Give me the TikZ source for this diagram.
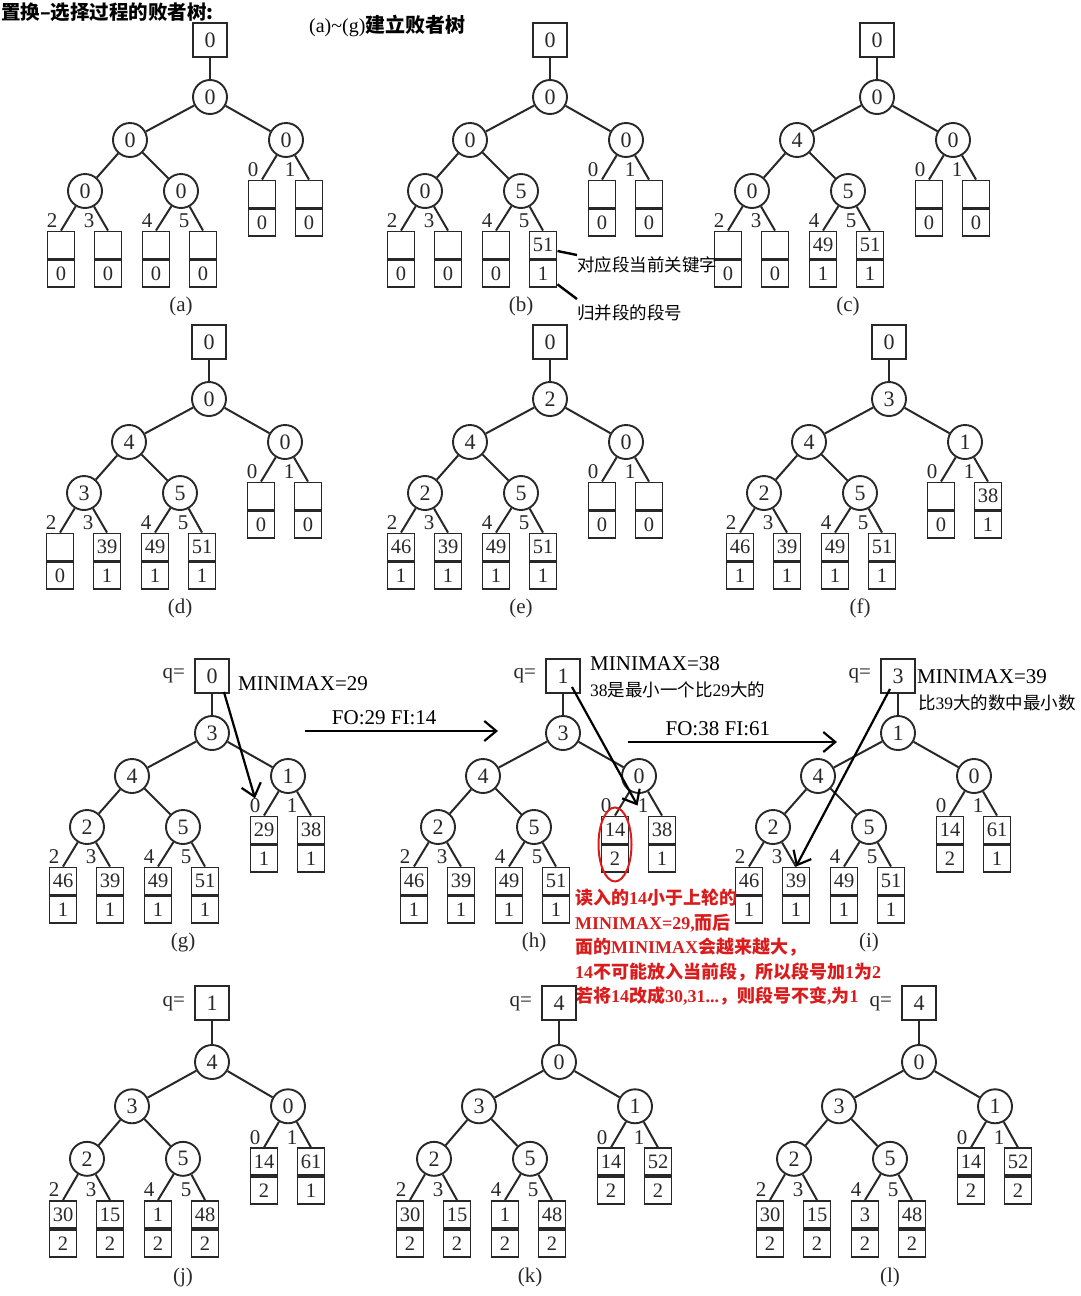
\documentclass[tikz,border=0pt]{standalone}
\usepackage{fontspec}
\setmainfont{Liberation Serif}
\newfontfamily\cjk{Noto Sans CJK SC}
\usetikzlibrary{positioning,arrows.meta,shapes.geometric}

\definecolor{ink}{RGB}{40,40,40}
\definecolor{remark}{RGB}{218,28,28}

\tikzset{
  sqnode/.style={rectangle,draw=ink,line width=1.9pt,minimum width=34pt,minimum height=34pt,inner sep=0pt,text=ink,font=\fontsize{22}{24}\selectfont},
  cnode/.style={circle,draw=ink,line width=1.9pt,minimum size=34pt,inner sep=0pt,text=ink,font=\fontsize{22}{24}\selectfont},
  cell/.style={rectangle,draw=ink,line width=1.9pt,minimum width=27pt,minimum height=27pt,inner sep=0pt,text=ink,font=\fontsize{20.5}{22}\selectfont},
  idx/.style={inner sep=0pt,text=ink,font=\fontsize{21}{22}\selectfont},
  treecap/.style={inner sep=0pt,text=ink,font=\fontsize{21}{24}\selectfont},
  link/.style={draw=ink,line width=2pt},
  jump/.style={draw=black,line width=2.2pt,-{Straight Barb[length=12pt,width=20pt,line width=2.2pt]}},
  lead/.style={draw=black,line width=2.4pt},
  mm/.style={inner sep=0pt,font=\fontsize{21}{24}\selectfont},
  cn/.style={inner sep=0pt,anchor=west,font=\fontsize{17.5}{21}\selectfont},
}

% loser tree: name, q, top, left, right, left-left, left-right, leaves key/run (2,3,4,5,0,1)
\newcommand{\losertree}[8]{%
  \node[sqnode] (#1-sq) at (0,-57) {#2};
  \node[cnode] (#1-c1) at (0,0) {#3};
  \node[cnode] (#1-c2) at (-80,43) {#4};
  \node[cnode] (#1-c3) at (76,43) {#5};
  \node[cnode] (#1-c4) at (-125,94) {#6};
  \node[cnode] (#1-c5) at (-29,94) {#7};
  \draw[link] (#1-sq) -- (#1-c1);
  \draw[link] (#1-c1) -- (#1-c2);
  \draw[link] (#1-c1) -- (#1-c3);
  \draw[link] (#1-c2) -- (#1-c4);
  \draw[link] (#1-c2) -- (#1-c5);
  \foreach \key/\run [count=\i from 0] in {#8} {
    \pgfmathsetmacro{\lx}{{-149,-102,-54,-7,52,99}[\i]}
    \pgfmathsetmacro{\ly}{{148,148,148,148,97,97}[\i]}
    \pgfmathtruncatemacro{\lp}{{4,4,5,5,3,3}[\i]}
    \pgfmathtruncatemacro{\lnum}{{2,3,4,5,0,1}[\i]}
    \pgfmathsetmacro{\lo}{-9-10*mod(\i,2)}
    \node[cell] (#1-k\lnum) at (\lx,\ly) {\key};
    \node[cell,anchor=north] (#1-s\lnum) at (#1-k\lnum.south) {\run};
    \draw[link] (#1-c\lp) -- (#1-k\lnum.north);
    \node[idx] (#1-n\lnum) at ([shift={(\lo,-10)}]#1-k\lnum.north) {\lnum};
  }
  \node[treecap] (#1-cap) at (-29,209) {(#1)};
}

\begin{document}
\begin{tikzpicture}[x=1pt,y=-1pt]
\useasboundingbox (0,0) rectangle (1080,1296);

% headings
\node[inner sep=0pt,anchor=west,font=\cjk\bfseries\fontsize{19.5}{24}\selectfont] (title) at (1,12) {置换–选择过程的败者树:};
\node[inner sep=0pt,anchor=west,font=\fontsize{20}{24}\selectfont] (build) at (309,26) {(a)\textasciitilde(g){\cjk\bfseries 建立败者树}};

% (a)-(c)
\begin{scope}[shift={(210,97)}]
  \losertree{a}{0}{0}{0}{0}{0}{0}{{}/0,{}/0,{}/0,{}/0,{}/0,{}/0}
\end{scope}
\begin{scope}[shift={(550,97)}]
  \losertree{b}{0}{0}{0}{0}{0}{5}{{}/0,{}/0,{}/0,51/1,{}/0,{}/0}
\end{scope}
\begin{scope}[shift={(877,97)}]
  \losertree{c}{0}{0}{4}{0}{0}{5}{{}/0,{}/0,49/1,51/1,{}/0,{}/0}
\end{scope}

\node[cn] (b-keynote) at (577,265) {\cjk 对应段当前关键字};
\node[cn] (b-runnote) at (577,313) {\cjk 归并段的段号};
\draw[lead] ([yshift=-6pt]b-k5.east) -- ([yshift=10pt]b-keynote.west);
\draw[lead] ([yshift=4pt]b-s5.south east) -- ([yshift=14pt]b-runnote.west);

% (d)-(f)
\begin{scope}[shift={(209,399)}]
  \losertree{d}{0}{0}{4}{0}{3}{5}{{}/0,39/1,49/1,51/1,{}/0,{}/0}
\end{scope}
\begin{scope}[shift={(550,399)}]
  \losertree{e}{0}{2}{4}{0}{2}{5}{46/1,39/1,49/1,51/1,{}/0,{}/0}
\end{scope}
\begin{scope}[shift={(889,399)}]
  \losertree{f}{0}{3}{4}{1}{2}{5}{46/1,39/1,49/1,51/1,{}/0,38/1}
\end{scope}

% (g)-(i)
\begin{scope}[shift={(212,733)}]
  \losertree{g}{0}{3}{4}{1}{2}{5}{46/1,39/1,49/1,51/1,29/1,38/1}
\end{scope}
\begin{scope}[shift={(563,733)}]
  \losertree{h}{1}{3}{4}{0}{2}{5}{46/1,39/1,49/1,51/1,14/2,38/1}
\end{scope}
\begin{scope}[shift={(898,733)}]
  \losertree{i}{3}{1}{4}{0}{2}{5}{46/1,39/1,49/1,51/1,14/2,61/1}
\end{scope}

\node[idx,left=9pt of g-sq] (g-q) {q=};
\node[idx,left=9pt of h-sq] (h-q) {q=};
\node[idx,left=9pt of i-sq] (i-q) {q=};

\node[mm,anchor=west] (g-mm) at (238,684) {MINIMAX=29};
\node[mm,anchor=west] (h-mm) at (590,664) {MINIMAX=38};
\node[cn] (h-why) at (590,690) {38{\cjk 是最小一个比}29{\cjk 大的}};
\node[mm,anchor=west] (i-mm) at (917,677) {MINIMAX=39};
\node[cn] (i-why) at (918,703) {{\cjk 比}39{\cjk 大的数中最小数}};

\draw[jump] ([shift={(-6,-2)}]g-sq.south east) -- (g-n0.north);
\draw[jump] ([shift={(-9,-7)}]h-sq.south east) -- (h-n1.west);
\draw[jump] ([shift={(-8,-5)}]i-sq.south) -- (i-k3.north);

\coordinate (fo1a) at (305,731);
\coordinate (fo1b) at (498,731);
\coordinate (fo2a) at (628,742);
\coordinate (fo2b) at (837,742);
\draw[jump] (fo1a) -- node[mm,pos=0.41,above=5pt] (fo1) {FO:29 FI:14} (fo1b);
\draw[jump] (fo2a) -- node[mm,pos=0.43,above=5pt] (fo2) {FO:38 FI:61} (fo2b);

\node[ellipse,draw=remark,line width=2pt,minimum width=33pt,minimum height=74pt,inner sep=0pt] (h-ring) at (h-k0.south) {};
\node[anchor=north west,inner sep=0pt,align=left,text=remark,font=\bfseries\fontsize{18}{24.5}\selectfont] (h-note) at (575,889)
  {{\cjk 读入的}14{\cjk 小于上轮的}\\
   MINIMAX=29,{\cjk 而后}\\
   {\cjk 面的}MINIMAX{\cjk 会越来越大，}\\
   14{\cjk 不可能放入当前段，所以段号加}1{\cjk 为}2\\
   {\cjk 若将}14{\cjk 改成}30,31...{\cjk ，则段号不变},{\cjk 为}1};

% (j)-(l)
\begin{scope}[shift={(212,1062)},yscale=1.03]
  \losertree{j}{1}{4}{3}{0}{2}{5}{30/2,15/2,1/2,48/2,14/2,61/1}
\end{scope}
\begin{scope}[shift={(559,1062)},yscale=1.03]
  \losertree{k}{4}{0}{3}{1}{2}{5}{30/2,15/2,1/2,48/2,14/2,52/2}
\end{scope}
\begin{scope}[shift={(919,1062)},yscale=1.03]
  \losertree{l}{4}{0}{3}{1}{2}{5}{30/2,15/2,3/2,48/2,14/2,52/2}
\end{scope}

\node[idx,left=9pt of j-sq] (j-q) {q=};
\node[idx,left=9pt of k-sq] (k-q) {q=};
\node[idx,left=9pt of l-sq] (l-q) {q=};
\end{tikzpicture}
\end{document}
